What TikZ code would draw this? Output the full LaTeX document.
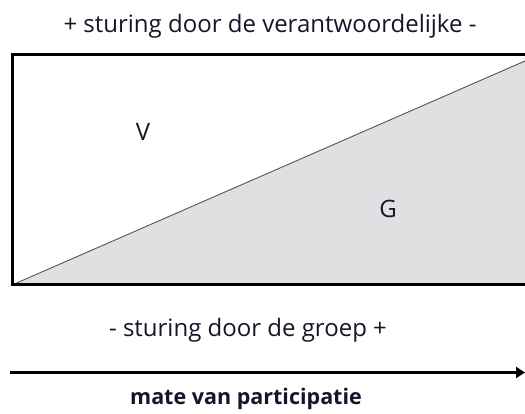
\documentclass[tikz,border=0pt]{standalone}
\usepackage{fontspec}
\setmainfont{Open Sans}
\usetikzlibrary{arrows.meta}
\definecolor{txt}{HTML}{15152A}
\definecolor{fillg}{HTML}{E0E0E2}
\definecolor{diag}{HTML}{555555}
\tikzset{
  lbl/.style={font=\fontsize{24}{28}\selectfont, text=txt, inner sep=0pt, anchor=base},
  boldlbl/.style={lbl, font=\fontsize{21.5}{26}\selectfont\bfseries},
  frame/.style={line width=3pt, black},
}
\begin{document}
\begin{tikzpicture}[x=1pt,y=-1pt]
\useasboundingbox (0,0) rectangle (525,414);
\begin{scope}
\clip (0,0) rectangle (525,414);
\fill[fillg] (12,285) -- (541,54) -- (541,285) -- cycle;
\draw[diag, line width=0.9pt] (12,285) -- (541,54);
\draw[frame] (545,54.5) -- (12,54.5) -- (12,285) -- (545,285);
\end{scope}
\node[lbl] (top) at (270,33) {+ sturing door de verantwoordelijke -};
\node[lbl] (v) at (143,141) {V};
\node[lbl] (g) at (388,218) {G};
\node[lbl] (bot) at (248,336) {- sturing door de groep +};
\coordinate (a0) at (10,372.5);
\coordinate (a1) at (525,372.5);
\draw[frame, -{Triangle[length=9pt,width=11pt]}] (a0) -- (a1);
\node[boldlbl] (mate) at (246,404) {mate van participatie};
\end{tikzpicture}
\end{document}
